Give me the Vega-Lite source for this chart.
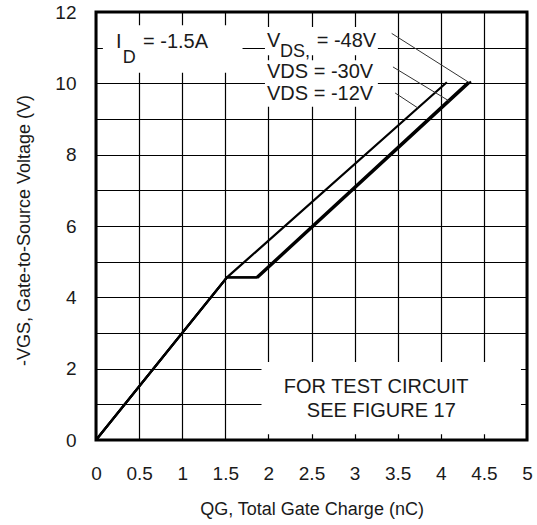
{
  "$schema": "https://vega.github.io/schema/vega-lite/v6.json",
  "width": 431,
  "height": 428,
  "autosize": {"type": "none"},
  "padding": {"left": 96, "top": 12, "right": 10, "bottom": 85},
  "background": "white",
  "config": {
    "view": {"stroke": "#000", "strokeWidth": 3},
    "font": "Liberation Sans",
    "text": {"font": "Liberation Sans", "color": "#1a1a1a"}
  },
  "datasets": {
    "boxes": [
      {"name": "id", "q": 0.08, "q2": 1.7, "v": 10.3, "v2": 11.63},
      {"name": "leg1", "q": 1.96, "q2": 3.27, "v": 10.79, "v2": 11.58},
      {"name": "leg2", "q": 1.96, "q2": 3.27, "v": 9.34, "v2": 10.65},
      {"name": "note", "q": 1.92, "q2": 4.93, "v": 0.16, "v2": 2.19}
    ],
    "curves": [
      {"vds": "-12V", "q": 0, "v": 0},
      {"vds": "-12V", "q": 1.52, "v": 4.56},
      {"vds": "-12V", "q": 4.07, "v": 10.03},
      {"vds": "-30V", "q": 0, "v": 0},
      {"vds": "-30V", "q": 1.52, "v": 4.56},
      {"vds": "-30V", "q": 1.86, "v": 4.56},
      {"vds": "-30V", "q": 4.32, "v": 10.04},
      {"vds": "-48V", "q": 0, "v": 0},
      {"vds": "-48V", "q": 1.52, "v": 4.56},
      {"vds": "-48V", "q": 1.88, "v": 4.56},
      {"vds": "-48V", "q": 4.35, "v": 10.05}
    ],
    "leaders": [
      {"vds": "-48V", "q": 3.43, "v": 11.4},
      {"vds": "-48V", "q": 4.33, "v": 10.02},
      {"vds": "-30V", "q": 3.445, "v": 10.46},
      {"vds": "-30V", "q": 4.1, "v": 9.5},
      {"vds": "-12V", "q": 3.47, "v": 9.73},
      {"vds": "-12V", "q": 3.74, "v": 9.3}
    ],
    "labels": [
      {"t": "I", "q": 0.232, "v": 10.99},
      {"t": "= -1.5A", "q": 0.545, "v": 10.99},
      {"t": "V", "q": 1.984, "v": 11.02},
      {"t": "= -48V", "q": 2.56, "v": 11.02},
      {"t": "VDS = -30V", "q": 1.984, "v": 10.15},
      {"t": "VDS = -12V", "q": 1.984, "v": 9.53}
    ],
    "subs": [
      {"t": "D", "q": 0.31, "v": 10.57},
      {"t": "DS,", "q": 2.135, "v": 10.74}
    ],
    "notes": [
      {"t": "FOR TEST CIRCUIT", "q": 3.25, "v": 1.32},
      {"t": "SEE FIGURE 17", "q": 3.31, "v": 0.645}
    ]
  },
  "encoding": {
    "x": {
      "field": "q", "type": "quantitative",
      "scale": {"domain": [0, 5], "nice": false, "zero": false},
      "axis": {
        "values": [0, 0.5, 1, 1.5, 2, 2.5, 3, 3.5, 4, 4.5, 5],
        "format": "~g",
        "grid": true, "gridColor": "#000", "gridWidth": 1.2, "gridOpacity": 1,
        "ticks": false, "domain": false,
        "labelFontSize": 19, "labelColor": "#1a1a1a", "labelPadding": 24,
        "labelFlush": false, "labelFont": "Liberation Sans",
        "title": "QG, Total Gate Charge (nC)",
        "titleFontSize": 18, "titleFontWeight": "normal", "titleColor": "#1a1a1a",
        "titlePadding": 17, "titleFont": "Liberation Sans"
      }
    },
    "y": {
      "field": "v", "type": "quantitative",
      "scale": {"domain": [0, 12], "nice": false, "zero": false},
      "axis": {
        "values": [0, 1, 2, 3, 4, 5, 6, 7, 8, 9, 10, 11, 12],
        "labelExpr": "datum.value % 2 === 0 ? datum.label : ''",
        "grid": true, "gridColor": "#000", "gridWidth": 1.2, "gridOpacity": 1,
        "ticks": false, "domain": false,
        "labelFontSize": 19, "labelColor": "#1a1a1a", "labelPadding": 20,
        "labelFlush": false, "labelFont": "Liberation Sans",
        "title": "-VGS, Gate-to-Source Voltage (V)",
        "titleFontSize": 18, "titleFontWeight": "normal", "titleColor": "#1a1a1a",
        "titleX": -63, "titleY": 218, "titleFont": "Liberation Sans"
      }
    }
  },
  "layer": [
    {
      "data": {"name": "boxes"},
      "mark": {"type": "rect", "fill": "white", "strokeWidth": 0},
      "encoding": {
        "x2": {"field": "q2"},
        "y2": {"field": "v2"}
      }
    },
    {
      "data": {"name": "curves"},
      "mark": {"type": "line", "color": "#000", "strokeWidth": 2.2, "strokeJoin": "miter"},
      "encoding": {"detail": {"field": "vds"}}
    },
    {
      "data": {"name": "leaders"},
      "mark": {"type": "line", "color": "#333", "strokeWidth": 1},
      "encoding": {"detail": {"field": "vds"}}
    },
    {
      "data": {"name": "labels"},
      "mark": {"type": "text", "align": "left", "baseline": "alphabetic", "fontSize": 20},
      "encoding": {"text": {"field": "t"}}
    },
    {
      "data": {"name": "subs"},
      "mark": {"type": "text", "align": "left", "baseline": "alphabetic", "fontSize": 18},
      "encoding": {"text": {"field": "t"}}
    },
    {
      "data": {"name": "notes"},
      "mark": {"type": "text", "align": "center", "baseline": "alphabetic", "fontSize": 20},
      "encoding": {"text": {"field": "t"}}
    }
  ]
}
